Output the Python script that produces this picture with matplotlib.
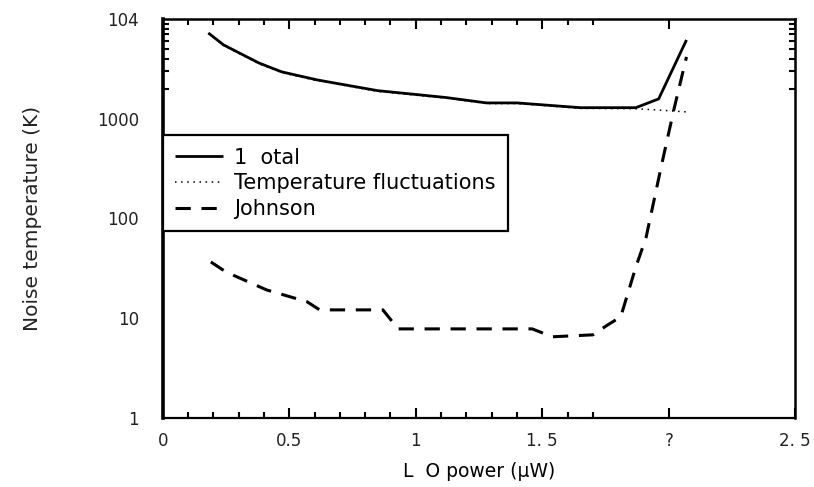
import matplotlib
matplotlib.use("Agg")
import matplotlib.pyplot as plt
from matplotlib.ticker import FixedLocator, NullFormatter

plt.rcParams['font.family'] = ['DejaVu Sans']

# LO power (uW) and noise temperatures (K)
total_x = [0.18, 0.24, 0.38, 0.47, 0.61, 0.70, 0.85, 1.01, 1.12, 1.28, 1.40, 1.65, 1.87, 1.96, 2.07]
total_t = [7240, 5500, 3620, 2950, 2450, 2230, 1910, 1740, 1630, 1440, 1440, 1290, 1290, 1580, 6160]

fluct_x = [0.18, 0.24, 0.38, 0.47, 0.61, 0.70, 0.85, 1.01, 1.12, 1.28, 1.40, 1.65, 1.87, 1.96, 2.07]
fluct_t = [7150, 5420, 3560, 2900, 2410, 2200, 1880, 1710, 1610, 1420, 1420, 1270, 1260, 1220, 1170]

johnson_x = [0.19, 0.25, 0.41, 0.57, 0.62, 0.87, 0.93, 1.46, 1.54, 1.70, 1.76, 1.81, 1.87, 1.91, 1.97, 2.02, 2.07]
johnson_t = [36.6, 29, 19.2, 14.6, 12.1, 12.1, 7.8, 7.8, 6.5, 6.8, 8.6, 10.3, 32.7, 64, 330, 1230, 4170]

legend_labels = ["1  otal", "Temperature fluctuations", "Johnson"]

x_ticks = [0, 0.5, 1, 1.5, 2, 2.5]
x_tick_labels = ["0", "0.5", "1", "1. 5", "?", "2. 5"]
y_ticks = [1, 10, 100, 1000, 10000]
y_tick_labels = ["1", "10", "100", "1000", "104"]

fig = plt.figure(figsize=(8.14, 4.87), dpi=100)
ax = fig.add_axes([0.200, 0.142, 0.777, 0.819])

ax.plot(total_x, total_t, color="black", lw=2.0, solid_capstyle="butt", label=legend_labels[0])
ax.plot(fluct_x, fluct_t, color="black", lw=1.1, linestyle=(0, (1, 3)), label=legend_labels[1])
ax.plot(johnson_x, johnson_t, color="black", lw=2.2, linestyle=(0, (5, 3.5)), label=legend_labels[2])

ax.set_yscale("log")
ax.set_xlim(0, 2.5)
ax.set_ylim(1, 10000)

ax.xaxis.set_major_locator(FixedLocator(x_ticks))
ax.set_xticklabels(x_tick_labels)
ax.xaxis.set_minor_locator(FixedLocator([0.1, 0.2, 0.3, 0.4, 0.6, 0.7, 0.8, 0.9,
                                         1.1, 1.2, 1.3, 1.4, 1.6, 1.7]))
ax.yaxis.set_major_locator(FixedLocator(y_ticks))
ax.set_yticklabels(y_tick_labels)
ax.yaxis.set_minor_locator(FixedLocator([2000, 3000, 4000, 5000, 6000, 7000, 8000, 9000]))
ax.yaxis.set_minor_formatter(NullFormatter())

ax.tick_params(axis="both", which="both", direction="in", top=True, right=True,
               labelsize=12, colors="black", labelcolor="#222222")
ax.tick_params(axis="x", which="major", length=7, width=1.5, pad=10)
ax.tick_params(axis="x", which="minor", length=4, width=1.5)
ax.tick_params(axis="y", which="major", length=0, pad=17)
ax.tick_params(axis="y", which="minor", length=4, width=1.5)

for side, lw in {"left": 2.6, "bottom": 1.6, "top": 1.8, "right": 1.8}.items():
    ax.spines[side].set_linewidth(lw)
    ax.spines[side].set_color("black")

ax.set_xlabel("L  O power (µW)", fontsize=13.5, labelpad=9)
ax.set_ylabel("Noise temperature (K)", fontsize=14.5, labelpad=40, color="#222222")

leg = ax.legend(loc="upper left", bbox_to_anchor=(0.0, 0.709), borderaxespad=0,
                fontsize=15, frameon=True, fancybox=False, handlelength=2.3,
                handletextpad=0.5, labelspacing=0.27, borderpad=0.6)
leg.get_frame().set_edgecolor("black")
leg.get_frame().set_linewidth(1.6)
leg.get_frame().set_facecolor("white")
leg.get_frame().set_alpha(1.0)

fig.savefig("out.png", dpi=100, facecolor="white")
